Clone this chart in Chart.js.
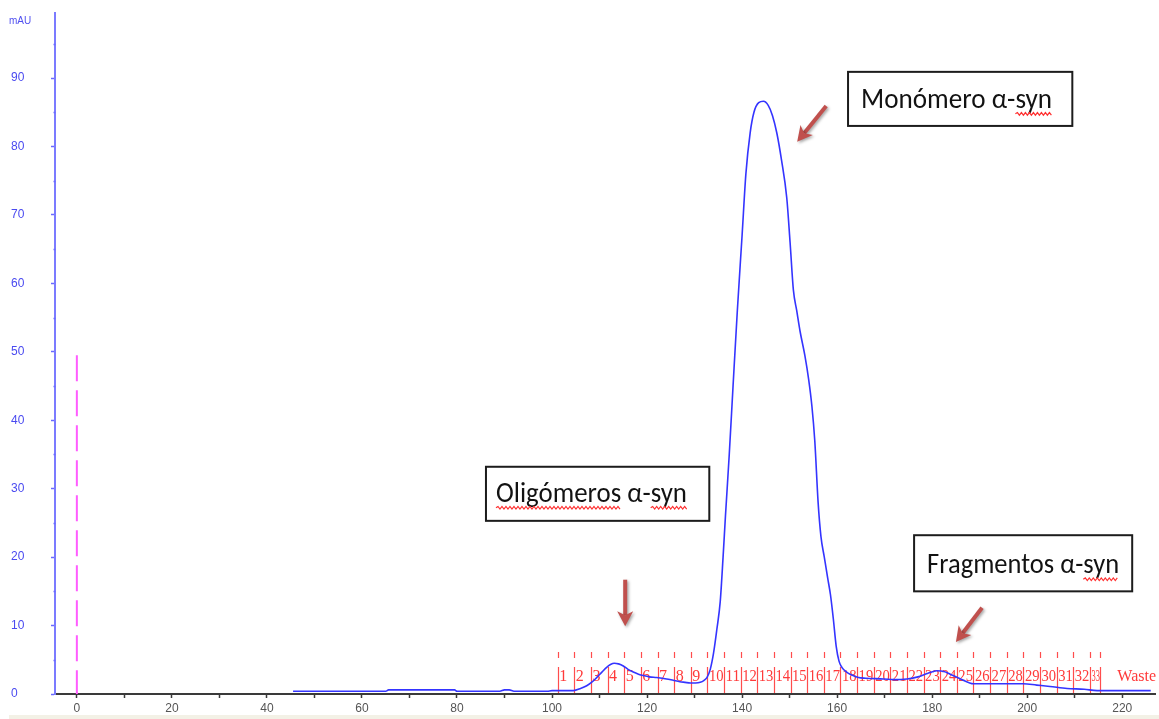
<!DOCTYPE html>
<html>
<head>
<meta charset="utf-8">
<title>Cromatografía α-sinucleína</title>
<script src="https://cdn.jsdelivr.net/npm/chart.js@4.4.1/dist/chart.umd.min.js"></script>
<style>
  html, body { margin: 0; padding: 0; background: #ffffff; overflow: hidden; }
  canvas { display: block; }
</style>
</head>
<body>
<canvas id="chrom" width="1159" height="719"></canvas>
<script>
// Elution volume (mL) and UV absorbance (mAU) of the size-exclusion run
const elutionVolume = [
  45.5, 50, 55, 60, 65, 65.6, 70, 75, 79.5, 80, 85, 89, 90, 91, 92, 95, 99, 100, 101,
  104.5, 106, 107.3, 108.5, 109.4, 110.5, 111.5, 112.3, 113.1, 114, 115, 116, 117.1,
  118.2, 119.2, 120.5, 122, 124.1, 125.5, 126.9, 128, 129.1, 130.2, 131.2, 132.0, 132.6,
  133.3, 134.0, 134.7, 135.4, 136.0, 136.5, 137.3, 138.1, 139.0, 140.0, 140.8, 141.7,
  142.5, 143.5, 144.5, 145.5, 146.4, 147.3, 148.3, 149.4, 150.1, 150.8, 151.5, 152.2,
  153.2, 154.0, 154.7, 155.3, 156.0, 156.6, 157.3, 158.0, 158.6, 159.2, 159.8, 160.4,
  161.0, 162.0, 163.0, 164.5, 166.0, 169.8, 172.0, 174.7, 177.0, 179.0, 181.0, 182.5,
  183.8, 186.0, 188.7, 191.5, 194.3, 197.0, 199.2, 202.0, 204.8, 208.4, 212.0, 214.7,
  220.0, 226.0
];
const absorbance = [
  0.4, 0.4, 0.4, 0.4, 0.4, 0.6, 0.6, 0.6, 0.6, 0.4, 0.4, 0.4, 0.6, 0.6, 0.4, 0.4, 0.4, 0.5, 0.5,
  0.5, 0.8, 1.2, 1.8, 2.4, 3.2, 3.9, 4.3, 4.5, 4.4, 4.1, 3.6, 3.2,
  2.9, 2.7, 2.5, 2.4, 2.2, 2.0, 1.8, 1.7, 1.6, 1.6, 1.7, 2.0, 2.4,
  3.6, 6.0, 9.5, 13.5, 20, 26, 35, 45, 56, 67, 76, 82,
  85, 86.4, 86.6, 86, 84.5, 82, 78, 72.5, 66, 59, 56, 53,
  49.5, 46, 42, 37, 28, 23, 20, 17, 14.5, 11, 7, 4.8,
  3.9, 3.2, 2.8, 2.4, 2.3, 2.2, 2.1, 2.2, 2.5, 3.0, 3.4, 3.3,
  2.9, 2.2, 1.5, 1.5, 1.5, 1.5, 1.5, 1.3, 1.1, 0.8, 0.7, 0.5,
  0.5, 0.5
];

// Injection marker (dashed)
const injectionX = [0, 0];
const injectionY = [49.5, 0];

// Fraction collector boundaries (mL) and their labels
const fractionEdges = [
  101.2, 104.7, 108.2, 111.7, 115.2, 118.7, 122.2, 125.7, 129.2, 132.7, 136.2,
  139.7, 143.2, 146.7, 150.2, 153.7, 157.2, 160.7, 164.2, 167.7, 171.2, 174.7,
  178.2, 181.7, 185.2, 188.7, 192.2, 195.7, 199.2, 202.7, 206.2, 209.7, 213.2, 215.4
];
const fractionLabels = [
  '1', '2', '3', '4', '5', '6', '7', '8', '9', '10', '11', '12', '13', '14', '15', '16', '17',
  '18', '19', '20', '21', '22', '23', '24', '25', '26', '27', '28', '29', '30', '31', '32', '33'
];
const wasteLabel = 'Waste';

// Axis labels
const xTickValues = [0, 20, 40, 60, 80, 100, 120, 140, 160, 180, 200, 220];
const yTickValues = [0, 10, 20, 30, 40, 50, 60, 70, 80, 90];
const yUnit = 'mAU';

// Callout texts
const calloutTexts = ['Monómero α-syn', 'Oligómeros α-syn', 'Fragmentos α-syn'];

const tracePoints = elutionVolume.map((v, i) => ({ x: v, y: absorbance[i] }));
const injectionPoints = injectionX.map((v, i) => ({ x: v, y: injectionY[i] }));

// White page with a thin beige strip at the bottom edge
const pagePlugin = {
  id: 'page',
  beforeDraw(chart) {
    const { ctx, width, height } = chart;
    ctx.save();
    ctx.fillStyle = '#ffffff';
    ctx.fillRect(0, 0, width, height);
    ctx.fillStyle = '#f3f1e6';
    ctx.fillRect(9, height - 4, width - 9, 4);
    ctx.restore();
  }
};

// Minor y ticks and the unit label
const axisExtrasPlugin = {
  id: 'axisExtras',
  afterDraw(chart) {
    const { ctx, scales: { y } } = chart;
    ctx.save();
    ctx.strokeStyle = '#6a6aff';
    ctx.lineWidth = 1.5;
    for (let v = 5; v < y.max; v += 10) {
      const py = Math.round(y.getPixelForValue(v)) + 0.5;
      ctx.beginPath();
      ctx.moveTo(y.right - 1.5, py);
      ctx.lineTo(y.right + 0.5, py);
      ctx.stroke();
    }
    ctx.fillStyle = '#5050f0';
    ctx.font = '10px "Liberation Sans", Arial, sans-serif';
    ctx.textBaseline = 'middle';
    ctx.textAlign = 'left';
    ctx.fillText(yUnit, 9, 21);
    ctx.restore();
  }
};

// Fraction collector marks drawn under the trace
const fractionPlugin = {
  id: 'fractions',
  beforeDatasetsDraw(chart) {
    const { ctx, scales: { x, y } } = chart;
    const base = y.getPixelForValue(0);
    ctx.save();
    ctx.strokeStyle = '#ff4d4d';
    ctx.lineWidth = 1.2;
    fractionEdges.forEach(v => {
      const px = Math.round(x.getPixelForValue(v)) + 0.5;
      ctx.beginPath();
      ctx.moveTo(px, base - 1);
      ctx.lineTo(px, base - 27);
      ctx.moveTo(px, base - 36);
      ctx.lineTo(px, base - 42);
      ctx.stroke();
    });
    ctx.fillStyle = '#ff3a3a';
    ctx.font = '16px "Liberation Serif", "DejaVu Serif", serif';
    ctx.textBaseline = 'middle';
    ctx.textAlign = 'left';
    fractionLabels.forEach((t, i) => {
      const left = x.getPixelForValue(fractionEdges[i]);
      const right = x.getPixelForValue(fractionEdges[i + 1]);
      const w = ctx.measureText(t).width;
      const room = right - left - 2;
      ctx.save();
      ctx.translate(left + 1.5, base - 17);
      if (w > room) ctx.scale(room / w, 1);
      ctx.fillText(t, 0, 0);
      ctx.restore();
    });
    ctx.fillText(wasteLabel, x.getPixelForValue(fractionEdges[fractionEdges.length - 1]) + 17, base - 17);
    ctx.restore();
  }
};

function drawArrow(ctx, x0, y0, x1, y1) {
  const ang = Math.atan2(y1 - y0, x1 - x0);
  const head = 15, hw = 8, notch = 4;
  const cos = Math.cos(ang), sin = Math.sin(ang);
  const bx = x1 - head * cos, by = y1 - head * sin;
  ctx.beginPath();
  ctx.moveTo(x0, y0);
  ctx.lineTo(bx + notch * cos, by + notch * sin);
  ctx.lineWidth = 4;
  ctx.lineCap = 'butt';
  ctx.stroke();
  ctx.beginPath();
  ctx.moveTo(x1, y1);
  ctx.lineTo(bx + hw * sin, by - hw * cos);
  ctx.lineTo(bx + notch * cos, by + notch * sin);
  ctx.lineTo(bx - hw * sin, by + hw * cos);
  ctx.closePath();
  ctx.fill();
}

function drawSquiggle(ctx, x0, x1, yy) {
  ctx.beginPath();
  let up = true;
  ctx.moveTo(x0, yy);
  for (let px = x0 + 2; px <= x1; px += 2) {
    ctx.lineTo(px, yy + (up ? -1.3 : 1.3));
    up = !up;
  }
  ctx.stroke();
}

// Boxed callouts with arrows pointing at the peaks
const calloutPlugin = {
  id: 'callouts',
  afterDraw(chart, args, opts) {
    const { ctx, scales: { x, y } } = chart;
    opts.items.forEach((c, i) => {
      const text = calloutTexts[i];
      const L = x.getPixelForValue(c.box[0]), T = y.getPixelForValue(c.box[1]);
      const R = x.getPixelForValue(c.box[2]), B = y.getPixelForValue(c.box[3]);
      ctx.save();
      ctx.fillStyle = '#ffffff';
      ctx.fillRect(L, T, R - L, B - T);
      ctx.strokeStyle = '#1c1c1c';
      ctx.lineWidth = 2;
      ctx.strokeRect(L, T, R - L, B - T);

      ctx.font = opts.font;
      const natural = ctx.measureText(text).width;
      const sx = c.textWidth / natural;
      const tx = L + c.padLeft, ty = T + c.baseline;
      ctx.save();
      ctx.translate(tx, ty);
      ctx.scale(sx, 1);
      ctx.fillStyle = '#121212';
      ctx.textBaseline = 'alphabetic';
      ctx.textAlign = 'left';
      ctx.fillText(text, 0, 0);
      ctx.restore();

      ctx.strokeStyle = '#ff3030';
      ctx.lineWidth = 1.2;
      c.squiggles.forEach(word => {
        const start = text.indexOf(word);
        const a = tx + ctx.measureText(text.slice(0, start)).width * sx;
        const b = a + ctx.measureText(word).width * sx;
        drawSquiggle(ctx, a, b, ty + 6);
      });

      ctx.fillStyle = '#c0504d';
      ctx.strokeStyle = '#c0504d';
      ctx.shadowColor = 'rgba(0,0,0,0.35)';
      ctx.shadowBlur = 3;
      ctx.shadowOffsetX = 1.5;
      ctx.shadowOffsetY = 1.5;
      drawArrow(ctx,
        x.getPixelForValue(c.arrow[0]), y.getPixelForValue(c.arrow[1]),
        x.getPixelForValue(c.arrow[2]), y.getPixelForValue(c.arrow[3]));
      ctx.restore();
    });
  }
};

Chart.defaults.font.family = '"Liberation Sans", Arial, sans-serif';

new Chart(document.getElementById('chrom'), {
  type: 'line',
  data: {
    datasets: [
      {
        data: tracePoints,
        borderColor: '#3434ff',
        borderWidth: 1.6,
        pointRadius: 0,
        cubicInterpolationMode: 'monotone',
        fill: false,
        order: 1
      },
      {
        data: injectionPoints,
        borderColor: '#ff5cff',
        borderWidth: 2,
        borderDash: [26, 9],
        pointRadius: 0,
        fill: false,
        order: 2
      }
    ]
  },
  options: {
    responsive: false,
    animation: false,
    events: [],
    layout: { padding: { left: 11, top: 13, right: 4, bottom: 0 } },
    plugins: {
      legend: { display: false },
      tooltip: { enabled: false },
      callouts: {
        font: '28px Carlito, "Liberation Sans Narrow", "Open Sans", sans-serif',
        items: [
          { box: [162.3, 90.9, 209.5, 83.0], padLeft: 13, baseline: 36, textWidth: 191,
            squiggles: ['syn'], arrow: [157.7, 85.9, 151.6, 80.7] },
          { box: [86.1, 33.2, 133.1, 25.3], padLeft: 10, baseline: 35, textWidth: 191,
            squiggles: ['Oligómeros', 'syn'], arrow: [115.4, 16.7, 115.4, 9.9] },
          { box: [176.2, 23.2, 222.1, 15.0], padLeft: 13, baseline: 38, textWidth: 192,
            squiggles: ['syn'], arrow: [190.5, 12.6, 185.0, 7.6] }
        ]
      }
    },
    scales: {
      x: {
        type: 'linear',
        min: -4.6,
        max: 226.9,
        afterFit(scale) { scale.height = 25; },
        border: { display: true, color: '#3a3a3a', width: 2 },
        grid: { drawOnChartArea: false, drawTicks: true, tickLength: 4, tickColor: '#3a3a3a', tickWidth: 1.5 },
        ticks: {
          stepSize: 10,
          includeBounds: false,
          autoSkip: false,
          maxRotation: 0,
          padding: 3,
          color: '#555555',
          font: { size: 12 },
          callback: v => (xTickValues.includes(v) ? String(v) : '')
        }
      },
      y: {
        type: 'linear',
        min: 0,
        max: 99.5,
        afterFit(scale) { scale.width = 44; },
        border: { display: true, color: '#7b7bff', width: 2 },
        grid: {
          drawOnChartArea: false,
          drawTicks: true,
          tickLength: 4,
          tickWidth: 1.5,
          tickColor: ctx => (ctx.tick && ctx.tick.value % 10 === 0 ? '#6a6aff' : 'rgba(0,0,0,0)')
        },
        ticks: {
          stepSize: 5,
          includeBounds: false,
          autoSkip: false,
          crossAlign: 'far',
          color: '#4a4af0',
          font: { size: 12 },
          callback: v => (yTickValues.includes(v) ? String(v) : '')
        }
      }
    }
  },
  plugins: [pagePlugin, fractionPlugin, axisExtrasPlugin, calloutPlugin]
});
</script>
</body>
</html>
